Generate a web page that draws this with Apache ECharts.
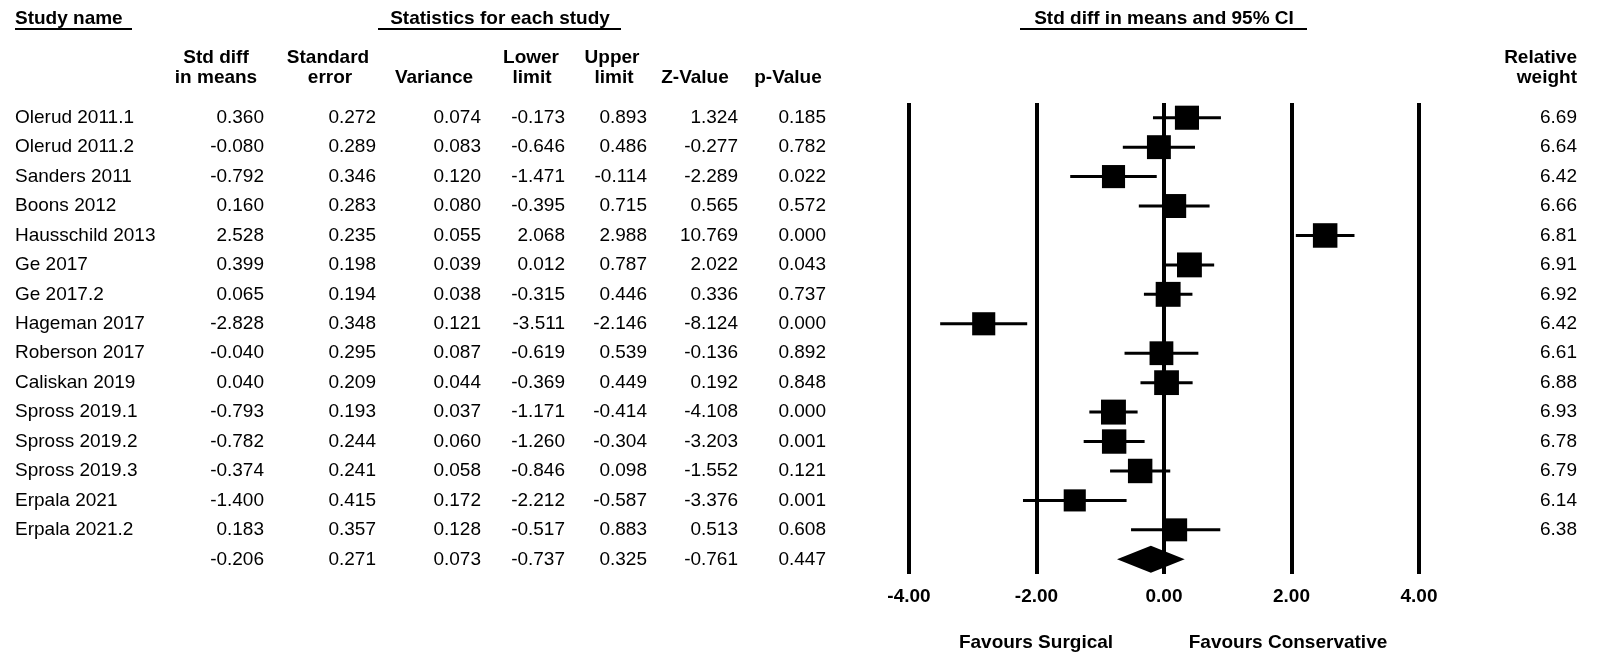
<!DOCTYPE html>
<html><head><meta charset="utf-8">
<script src="https://cdn.jsdelivr.net/npm/echarts@6/dist/echarts.min.js"></script>
<style>html,body{margin:0;padding:0;background:#fff}#c{width:1597px;height:654px}</style>
</head><body><div id="c"></div>
<script>
const studies = ['Olerud 2011.1','Olerud 2011.2','Sanders 2011','Boons 2012','Hausschild 2013','Ge 2017','Ge 2017.2','Hageman 2017','Roberson 2017','Caliskan 2019','Spross 2019.1','Spross 2019.2','Spross 2019.3','Erpala 2021','Erpala 2021.2'];
const stdDiff = [0.360,-0.080,-0.792,0.160,2.528,0.399,0.065,-2.828,-0.040,0.040,-0.793,-0.782,-0.374,-1.400,0.183];
const stdErr = [0.272,0.289,0.346,0.283,0.235,0.198,0.194,0.348,0.295,0.209,0.193,0.244,0.241,0.415,0.357];
const variance = [0.074,0.083,0.120,0.080,0.055,0.039,0.038,0.121,0.087,0.044,0.037,0.060,0.058,0.172,0.128];
const lowerLimit = [-0.173,-0.646,-1.471,-0.395,2.068,0.012,-0.315,-3.511,-0.619,-0.369,-1.171,-1.260,-0.846,-2.212,-0.517];
const upperLimit = [0.893,0.486,-0.114,0.715,2.988,0.787,0.446,-2.146,0.539,0.449,-0.414,-0.304,0.098,-0.587,0.883];
const zValue = [1.324,-0.277,-2.289,0.565,10.769,2.022,0.336,-8.124,-0.136,0.192,-4.108,-3.203,-1.552,-3.376,0.513];
const pValue = [0.185,0.782,0.022,0.572,0.000,0.043,0.737,0.000,0.892,0.848,0.000,0.001,0.121,0.001,0.608];
const relWeight = [6.69,6.64,6.42,6.66,6.81,6.91,6.92,6.42,6.61,6.88,6.93,6.78,6.79,6.14,6.38];
// summary row: std diff, SE, variance, lower, upper, Z, p
const summaryStats = [-0.206,0.271,0.073,-0.737,0.325,-0.761,0.447];
const xTicks = [-4,-2,0,2,4];

const FONT = "'Liberation Sans', Arial, sans-serif";
const GL = 909, GR = 1419, GT = 103, GB = 574, W = 1597, H = 654;
const rowLabels = studies.concat(['']);
const cols = [stdDiff, stdErr, variance, lowerLimit, upperLimit, zValue, pValue];
const colRight = [264, 376, 481, 565, 647, 738, 826];

const baseAxis = {type:'category', inverse:true, gridIndex:0,
  axisLine:{show:false}, axisTick:{show:false}, splitLine:{show:false}};
const yAxes = [];
yAxes.push(Object.assign({}, baseAxis, {data: rowLabels, position:'left', offset: GL - 15,
  axisLabel:{align:'left', margin:0, interval:0, fontSize:19, color:'#000', fontFamily:FONT}}));
cols.forEach((c, k) => {
  yAxes.push(Object.assign({}, baseAxis, {
    data: c.map(v => v.toFixed(3)).concat([summaryStats[k].toFixed(3)]),
    position:'left', offset: GL - colRight[k],
    axisLabel:{align:'right', margin:0, interval:0, fontSize:19, color:'#000', fontFamily:FONT}}));
});
yAxes.push(Object.assign({}, baseAxis, {
  data: relWeight.map(v => v.toFixed(2)).concat(['']),
  position:'right', offset: 1577 - GR,
  axisLabel:{align:'right', margin:0, interval:0, fontSize:19, color:'#000', fontFamily:FONT}}));

function txt(t, x, y, align, bold) {
  return {type:'text', style:{text:t, x:x, y:y, align:align, verticalAlign:'middle',
    textAlign:align, textVerticalAlign:'middle', fill:'#000',
    font:(bold ? 'bold ' : '') + '19px ' + FONT}};
}
function uline(x1, x2, y) {
  return {type:'line', shape:{x1:x1, y1:y, x2:x2, y2:y}, style:{stroke:'#000', lineWidth:2}};
}
const headers = [
  txt('Study name', 15, 19, 'left', true), uline(15, 132, 29),
  txt('Statistics for each study', 500, 19, 'center', true), uline(378, 621, 29),
  txt('Std diff in means and 95% CI', 1164, 19, 'center', true), uline(1020, 1307, 29),
  txt('Std diff', 216, 58, 'center', true), txt('in means', 216, 78, 'center', true),
  txt('Standard', 328, 58, 'center', true), txt('error', 330, 78, 'center', true),
  txt('Variance', 434, 78, 'center', true),
  txt('Lower', 531, 58, 'center', true), txt('limit', 532, 78, 'center', true),
  txt('Upper', 612, 58, 'center', true), txt('limit', 614, 78, 'center', true),
  txt('Z-Value', 695, 78, 'center', true),
  txt('p-Value', 788, 78, 'center', true),
  txt('Relative', 1577, 58, 'right', true), txt('weight', 1577, 78, 'right', true),
  txt('Favours Surgical', 1036, 643, 'center', true),
  txt('Favours Conservative', 1288, 643, 'center', true)
];

const studyData = studies.map((s, i) => [stdDiff[i], i, lowerLimit[i], upperLimit[i], relWeight[i]]);
const summaryData = [[summaryStats[0], studies.length, summaryStats[3], summaryStats[4]]];

const chart = echarts.init(document.getElementById('c'), null, {renderer:'canvas'});
chart.setOption({
  animation:false,
  backgroundColor:'#fff',
  grid:{left:GL, right:W - GR, top:GT, bottom:H - GB, containLabel:false},
  xAxis:{type:'value', min:-4, max:4, interval:2,
    axisLine:{show:false}, axisTick:{show:false},
    splitLine:{show:true, lineStyle:{color:'#000', width:4}},
    axisLabel:{margin:13, fontSize:19, fontWeight:'bold', color:'#000', fontFamily:FONT,
      showMinLabel:true, showMaxLabel:true,
      formatter: v => xTicks.indexOf(v) >= 0 ? v.toFixed(2) : ''}},
  yAxis: yAxes,
  graphic: headers,
  series:[
    {type:'custom', xAxisIndex:0, yAxisIndex:0, data:studyData, encode:{x:[0,2,3], y:1},
      renderItem:function(params, api){
        const y = api.value(1);
        const c = api.coord([api.value(0), y]);
        const l = api.coord([api.value(2), y]);
        const h = api.coord([api.value(3), y]);
        const s = api.value(4) * 3.6;
        return {type:'group', children:[
          {type:'line', shape:{x1:l[0], y1:c[1], x2:h[0], y2:c[1]}, style:{stroke:'#000', lineWidth:3}},
          {type:'rect', shape:{x:c[0]-s/2, y:c[1]-s/2, width:s, height:s}, style:{fill:'#000'}}
        ]};
      }},
    {type:'custom', xAxisIndex:0, yAxisIndex:0, data:summaryData, encode:{x:[0,2,3], y:1},
      renderItem:function(params, api){
        const y = api.value(1);
        const c = api.coord([api.value(0), y]);
        const l = api.coord([api.value(2), y]);
        const h = api.coord([api.value(3), y]);
        const hh = 13.5;
        return {type:'polygon', shape:{points:[[l[0], c[1]], [c[0], c[1]-hh], [h[0], c[1]], [c[0], c[1]+hh]]},
          style:{fill:'#000'}};
      }}
  ]
});
</script></body></html>
